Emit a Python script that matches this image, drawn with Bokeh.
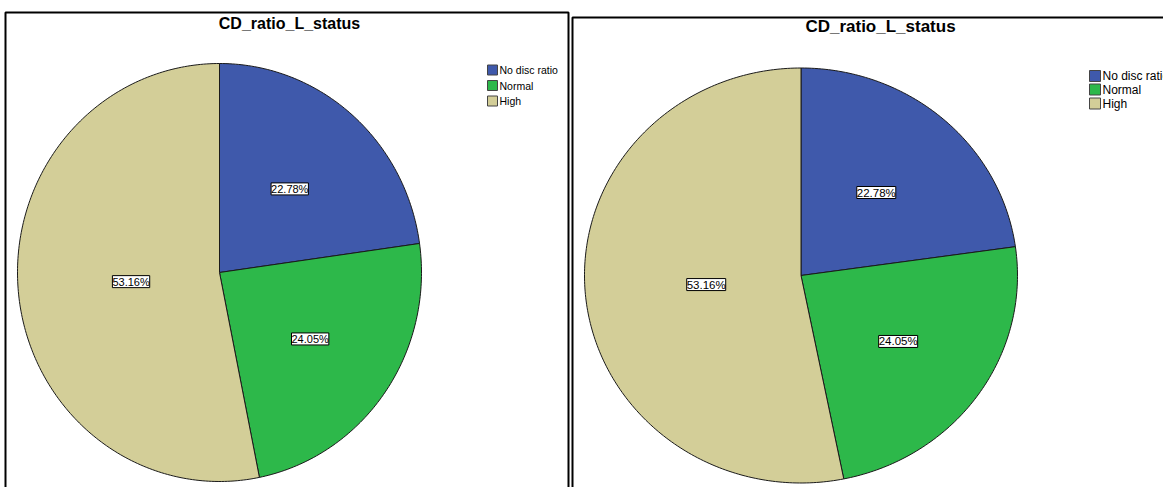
import numpy as np
from bokeh.plotting import figure
from bokeh.models import Range1d, ColumnDataSource, LabelSet
from bokeh.embed import file_html
from bokeh.resources import INLINE
from bokeh.core.properties import value

# ---- data ----
title_text = "CD_ratio_L_status"
categories = ["No disc ratio", "Normal", "High"]
percent_values = [22.78, 24.05, 53.16]
slice_colors = ["#3F59AB", "#2DB84A", "#D3CE98"]

FONT = "Liberation Sans"
W, H = 1163, 487

p = figure(width=W, height=H, x_range=Range1d(0, W), y_range=Range1d(H, 0),
           output_backend="svg", toolbar_location=None, min_border=0)
p.axis.visible = False
p.grid.visible = False
p.outline_line_color = None
p.background_fill_color = "white"
p.border_fill_color = "white"

# two panels (same chart shown twice at slightly different scale)
panels = [
    dict(box=(5, 568, 12, 500), cx=219, cy=272, rx=202, ry=209,
         title=(289, 23, "16px"), leg_x=487, leg_y=[69.5, 85, 100.5], sq=10,
         leg_font="10.5px", lab_font="11px", lab_f=[0.53, 0.55, 0.44]),
    dict(box=(572, 1200, 17, 500), cx=800.5, cy=275, rx=216.5, ry=207.5,
         title=(880, 26, "17px"), leg_x=1089, leg_y=[75.5, 89, 103], sq=11,
         leg_font="12px", lab_font="11.5px", lab_f=[0.53, 0.55, 0.44]),
]

vals = np.array(percent_values, dtype=float)
fracs = vals / vals.sum()
ends = np.cumsum(fracs) * 2 * np.pi
starts = ends - fracs * 2 * np.pi
mids = (starts + ends) / 2

for pn in panels:
    l, r, t, b = pn["box"]
    p.quad(left=[l], right=[r], top=[t], bottom=[b], fill_color=None,
           line_color="black", line_width=2)

    cx, cy, rx, ry = pn["cx"], pn["cy"], pn["rx"], pn["ry"]
    xs, ys = [], []
    for s, e in zip(starts, ends):
        n = max(int((e - s) / (2 * np.pi) * 400), 8)
        th = np.linspace(s, e, n)
        xs.append([cx] + list(cx + rx * np.sin(th)))
        ys.append([cy] + list(cy - ry * np.cos(th)))
    p.patches(xs, ys, fill_color=slice_colors, line_color="#1a1a1a", line_width=1)

    # percentage labels
    lx = [cx + f * rx * np.sin(m) for f, m in zip(pn["lab_f"], mids)]
    ly = [cy - f * ry * np.cos(m) for f, m in zip(pn["lab_f"], mids)]
    src = ColumnDataSource(dict(x=lx, y=ly, t=[f"{v:.2f}%" for v in percent_values]))
    p.add_layout(LabelSet(x="x", y="y", text="t", source=src, text_align="center",
                          text_baseline="middle", text_font=value(FONT),
                          text_font_size=value(pn["lab_font"]), text_color="black",
                          background_fill_color="white", border_line_color="black",
                          border_line_width=1))

    # title
    tx, ty, tsz = pn["title"]
    p.text(x=[tx], y=[ty], text=[title_text], text_align="center",
           text_baseline="middle", text_font=value(FONT), text_font_style="bold",
           text_font_size=tsz, text_color="black")

    # legend
    sq = pn["sq"]
    p.rect(x=[pn["leg_x"] + sq / 2] * 3, y=pn["leg_y"], width=sq, height=sq,
           fill_color=slice_colors, line_color="#444444", line_width=1)
    p.text(x=[pn["leg_x"] + sq + 2] * 3, y=pn["leg_y"], text=categories,
           text_align="left", text_baseline="middle", text_font=value(FONT),
           text_font_size=pn["leg_font"], text_color="black")

open("out.html", "w").write(file_html(p, INLINE))
